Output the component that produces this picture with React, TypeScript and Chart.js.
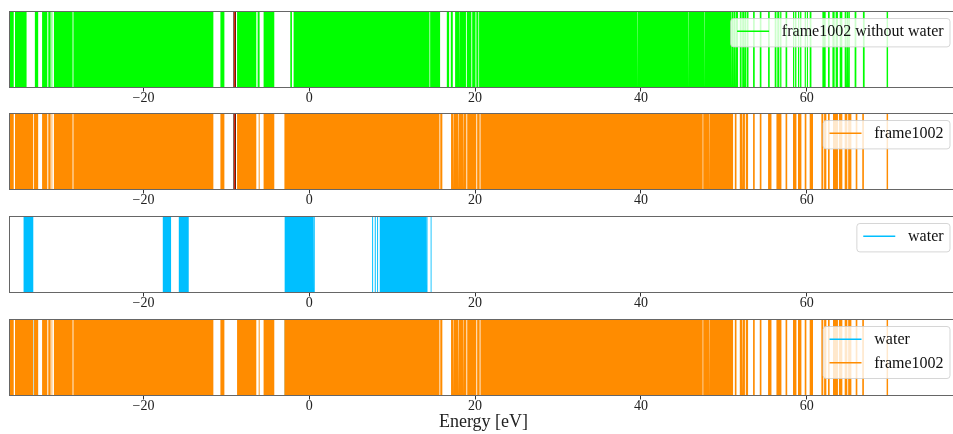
import React, { useEffect, useRef } from 'react';
import { Chart, registerables } from 'chart.js';

Chart.register(...registerables);

type Band = [number, number];

// ---- axis ----
const X_MIN = -36.22;
const X_MAX = 78.25;
const TICK_VALUES = [-20, 0, 20, 40, 60];
const X_LABEL = 'Energy [eV]';

// ---- series labels / colours ----
const LABEL_WITHOUT_WATER = 'frame1002 without water';
const LABEL_FRAME = 'frame1002';
const LABEL_WATER = 'water';
const COLOR_WITHOUT_WATER = '#00ff00';
const COLOR_FRAME = '#ff8c00';
const COLOR_WATER = '#00bfff';

// marker line (red) drawn in the two upper panels
const MARKER_ENERGY = -9.0;

// ---- energy levels, as [start, end] eV ranges of (dense) level lines ----
const FRAME_WITHOUT_WATER_BANDS: Band[] = [
  [-36.4, -35.65], [-35.5, -34.1], [-33.1, -32.7], [-32.23, -31.6], [-31.48, -31.2],
  [-31.08, -31.0], [-30.8, -28.55], [-28.45, -11.57], [-10.72, -10.24], [-8.71, -6.39],
  [-6.23, -5.99], [-5.51, -4.22], [-2.29, -2.09], [-1.89, 14.5], [14.58, 15.78],
  [16.59, 16.87], [17.07, 17.31], [17.59, 18.08], [18.15, 18.9], [19.0, 19.55],
  [19.65, 20.05], [20.15, 20.4], [20.48, 39.55], [39.62, 45.7], [45.77, 47.65],
  [47.72, 50.9], [50.98, 51.15], [51.22, 51.36], [51.45, 51.72], [51.93, 52.15],
  [52.22, 52.45], [52.52, 52.73], [52.8, 52.98], [53.53, 53.73], [54.34, 54.54],
  [55.34, 55.54], [56.14, 56.35], [56.45, 56.7], [56.8, 56.95], [57.45, 57.65],
  [58.35, 58.5], [58.6, 58.76], [58.95, 59.1], [59.2, 59.36], [59.76, 59.9],
  [60.02, 60.16], [60.36, 60.57], [61.89, 62.29], [62.57, 62.77], [63.1, 63.37],
  [63.49, 63.77], [63.98, 64.3], [64.58, 64.75], [64.85, 65.0], [65.06, 65.2],
  [65.78, 65.99], [66.78, 66.99], [69.64, 69.84],
];

const FRAME_BANDS: Band[] = [
  [-36.4, -35.65], [-35.5, -33.3], [-33.2, -32.7], [-32.23, -31.6], [-31.48, -31.2],
  [-31.08, -31.0], [-30.8, -28.55], [-28.45, -11.57], [-10.72, -10.24], [-8.71, -6.39],
  [-6.1, -5.99], [-5.51, -4.22], [-3.0, 15.7], [15.8, 16.05],
  [17.1, 17.35], [17.43, 17.95], [18.05, 18.55], [18.63, 18.95], [19.05, 20.15],
  [20.25, 20.55], [20.65, 47.45], [47.52, 48.25], [48.32, 51.12], [51.33, 51.53],
  [51.93, 52.2], [52.3, 52.55], [52.65, 52.93], [53.53, 53.73], [54.34, 54.54],
  [55.34, 55.75], [56.35, 56.95], [57.45, 57.65], [58.35, 58.76], [58.95, 59.36],
  [59.76, 59.96], [60.36, 60.76], [61.77, 62.0], [62.1, 62.37], [62.57, 62.77],
  [63.17, 63.77], [63.89, 64.3], [64.58, 64.9], [65.0, 65.39], [65.91, 66.11],
  [66.7, 66.9], [69.64, 69.84],
];

const WATER_BANDS: Band[] = [
  [-34.49, -33.29], [-17.67, -16.67], [-15.74, -14.54], [-2.97, 0.5], [0.55, 0.66],
  [7.58, 7.7], [7.9, 8.02], [8.18, 8.3], [8.5, 14.1], [14.14, 14.26], [14.64, 14.77],
];

// ---- helpers ----
const FONT_FAMILY = "'Liberation Serif', 'Times New Roman', serif";

function bandPoints(bands: Band[]) {
  const pts: { x: number; y: number }[] = [];
  for (const [a, b] of bands) {
    pts.push({ x: a, y: 0 }, { x: a, y: 1 }, { x: b, y: 1 }, { x: b, y: 0 });
  }
  return pts;
}

function fmtTick(v: number) {
  return v < 0 ? '\u2212' + Math.abs(v) : String(v);
}

interface LegendItem { label: string; color: string }
interface Layer { color: string; bands: Band[] }
interface PanelSpec {
  top: number;
  layers: Layer[]; // first = on top
  legend: LegendItem[];
  marker: boolean;
  xTitle: boolean;
}

const PANEL_H = 77;
const PAD_TOP = 5;
const CANVAS_W = 962;

const PANELS: PanelSpec[] = [
  {
    top: 11,
    layers: [{ color: COLOR_WITHOUT_WATER, bands: FRAME_WITHOUT_WATER_BANDS }],
    legend: [{ label: LABEL_WITHOUT_WATER, color: COLOR_WITHOUT_WATER }],
    marker: true,
    xTitle: false,
  },
  {
    top: 113,
    layers: [{ color: COLOR_FRAME, bands: FRAME_BANDS }],
    legend: [{ label: LABEL_FRAME, color: COLOR_FRAME }],
    marker: true,
    xTitle: false,
  },
  {
    top: 216,
    layers: [{ color: COLOR_WATER, bands: WATER_BANDS }],
    legend: [{ label: LABEL_WATER, color: COLOR_WATER }],
    marker: false,
    xTitle: false,
  },
  {
    top: 319,
    layers: [
      { color: COLOR_FRAME, bands: FRAME_BANDS },
      { color: COLOR_WATER, bands: WATER_BANDS },
    ],
    legend: [
      { label: LABEL_WATER, color: COLOR_WATER },
      { label: LABEL_FRAME, color: COLOR_FRAME },
    ],
    marker: false,
    xTitle: true,
  },
];

const framePlugin = {
  id: 'frameBox',
  afterDatasetsDraw(chart: any) {
    const { ctx, chartArea } = chart;
    const { left, top, right, bottom } = chartArea;
    ctx.save();
    ctx.strokeStyle = '#666';
    ctx.lineWidth = 1;
    ctx.strokeRect(left + 0.5, top + 0.5, right - left - 1, bottom - top - 1);
    ctx.restore();
  },
};

function makeLegendPlugin(items: LegendItem[]) {
  return {
    id: 'mplLegend',
    afterDraw(chart: any) {
      const { ctx, chartArea } = chart;
      const fs = 16;
      ctx.save();
      ctx.font = `${fs}px ${FONT_FAMILY}`;
      const textW = Math.max(...items.map((i) => ctx.measureText(i.label).width));
      const pad = 0.4 * fs;
      const handle = 2 * fs;
      const hpad = 0.8 * fs;
      const rowH = 15.6;
      const spacing = 0.5 * fs;
      const w = pad + handle + hpad + textW + pad;
      const h = 2 * pad + items.length * rowH + (items.length - 1) * spacing;
      const right = chartArea.right - 8;
      const top = chartArea.top + 7.5;
      const left = right - w;
      ctx.beginPath();
      (ctx as any).roundRect(left, top, w, h, 3);
      ctx.fillStyle = 'rgba(255,255,255,0.8)';
      ctx.fill();
      ctx.strokeStyle = 'rgba(204,204,204,0.8)';
      ctx.lineWidth = 1;
      ctx.stroke();
      items.forEach((it, i) => {
        const cy = top + pad + rowH / 2 - 1.5 + i * (rowH + spacing);
        ctx.beginPath();
        ctx.moveTo(left + pad, cy);
        ctx.lineTo(left + pad + handle, cy);
        ctx.strokeStyle = it.color;
        ctx.lineWidth = 1.5;
        ctx.stroke();
        ctx.fillStyle = '#111';
        ctx.textBaseline = 'middle';
        ctx.textAlign = 'left';
        ctx.fillText(it.label, left + pad + handle + hpad, cy + 0.5);
      });
      ctx.restore();
    },
  };
}

function Panel({ spec }: { spec: PanelSpec }) {
  const ref = useRef<HTMLCanvasElement>(null);
  const axisH = spec.xTitle ? 40 : 21;
  const canvasH = PAD_TOP + PANEL_H + axisH;

  useEffect(() => {
    const canvas = ref.current;
    if (!canvas) return;
    const datasets: any[] = [];
    if (spec.marker) {
      const pts = [{ x: MARKER_ENERGY, y: 0 }, { x: MARKER_ENERGY, y: 1 }];
      datasets.push({
        data: pts, borderColor: '#ff2a10', borderWidth: 1, pointRadius: 0, fill: false,
      });
      datasets.push({
        data: pts, borderColor: '#3d1800', borderWidth: 2.6, pointRadius: 0, fill: false,
      });
    }
    for (const layer of spec.layers) {
      datasets.push({
        data: bandPoints(layer.bands),
        borderColor: 'rgba(0,0,0,0)',
        borderWidth: 0,
        backgroundColor: layer.color,
        pointRadius: 0,
        tension: 0,
        fill: 'origin',
      });
    }
    const chart = new Chart(canvas, {
      type: 'line',
      data: { datasets },
      options: {
        animation: false,
        responsive: false,
        maintainAspectRatio: false,
        devicePixelRatio: 1,
        events: [],
        layout: { padding: { left: 9, right: 4, top: PAD_TOP, bottom: 0 } },
        plugins: { legend: { display: false }, tooltip: { enabled: false } },
        scales: {
          x: {
            type: 'linear',
            min: X_MIN,
            max: X_MAX,
            afterBuildTicks: (s: any) => {
              s.ticks = TICK_VALUES.map((v) => ({ value: v }));
            },
            afterFit: (s: any) => {
              s.height = axisH;
            },
            grid: {
              display: true,
              drawOnChartArea: false,
              drawTicks: true,
              tickLength: 3.5,
              color: '#333',
              lineWidth: 1,
            },
            border: { display: false },
            ticks: {
              padding: -2,
              color: '#222',
              autoSkip: false,
              maxRotation: 0,
              font: { family: FONT_FAMILY, size: 14 },
              callback: (v: any) => fmtTick(Number(v)),
            },
            title: {
              display: spec.xTitle,
              text: X_LABEL,
              color: '#222',
              font: { family: FONT_FAMILY, size: 18 },
              padding: { top: 0, bottom: 3 },
            },
          },
          y: { type: 'linear', min: 0, max: 1, display: false },
        },
      } as any,
      plugins: [framePlugin, makeLegendPlugin(spec.legend)],
    });
    return () => chart.destroy();
  }, [spec]);

  return (
    <canvas
      ref={ref}
      width={CANVAS_W}
      height={canvasH}
      style={{
        position: 'absolute',
        left: 0,
        top: spec.top - PAD_TOP,
        width: CANVAS_W,
        height: canvasH,
        display: 'block',
      }}
    />
  );
}

export default function App() {
  return (
    <div
      style={{
        position: 'fixed',
        left: 0,
        top: 0,
        width: 953,
        height: 434,
        overflow: 'hidden',
        background: '#ffffff',
      }}
    >
      {PANELS.map((p, i) => (
        <Panel key={i} spec={p} />
      ))}
    </div>
  );
}
